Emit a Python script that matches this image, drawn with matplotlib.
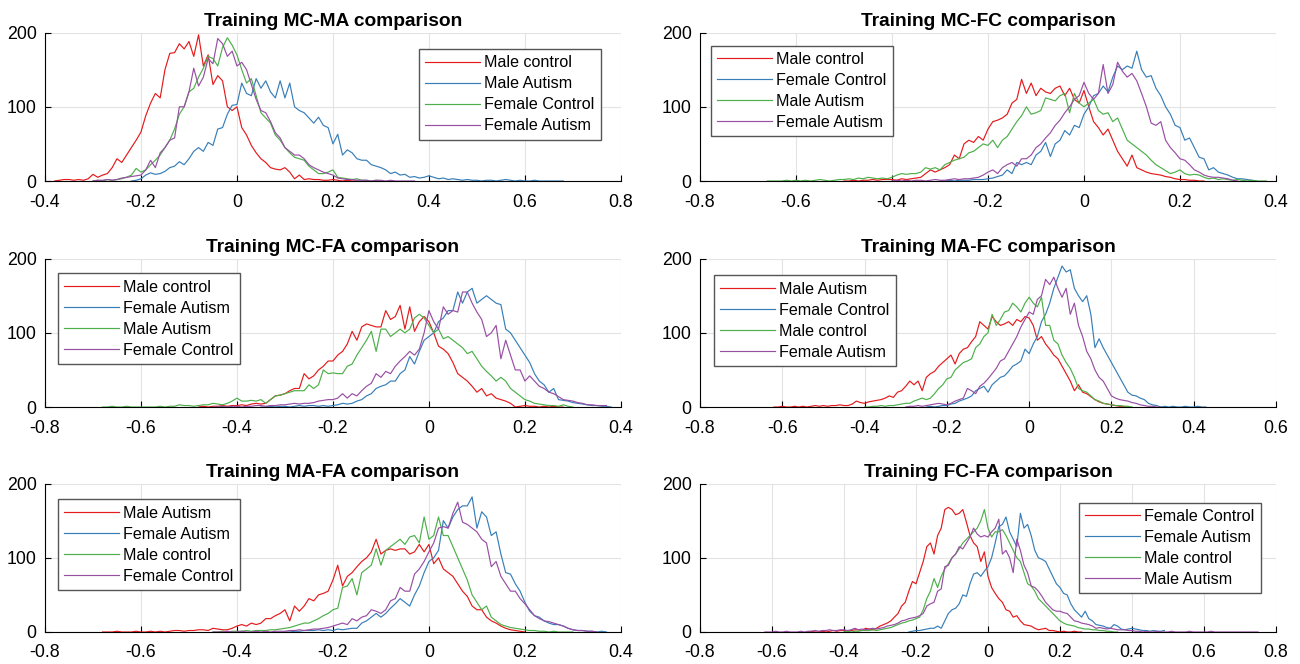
import numpy as np
import matplotlib.pyplot as plt

plt.rcParams['font.family'] = ['Liberation Sans', 'DejaVu Sans']

RED, BLUE, GREEN, PURPLE = '#E41A1C', '#377EB8', '#4DAF4A', '#984EA3'
BIN = 0.01  # histogram bin width, every list below is on this grid

# ---- Training MC-MA comparison
mcma_titles = ['Male control', 'Male Autism', 'Female Control', 'Female Autism']
mcma_start = [-0.38, -0.22, -0.30, -0.30]
mcma_red = [0, 1, 2, 2, 1, 2, 1, 3, 9, 5, 8, 10, 18, 30, 25, 35, 45, 55, 66, 88, 105, 118, 112, 150,
            172, 173, 185, 178, 188, 168, 197, 155, 170, 130, 142, 135, 100, 95, 100, 72, 62, 48, 38,
            30, 25, 18, 16, 15, 18, 12, 3, 8, 2, 3, 2, 2, 1, 1, 2, 1, 0, 1, 0, 0]
mcma_blue = [0, 1, 3, 8, 11, 9, 10, 13, 18, 20, 26, 22, 30, 40, 45, 40, 52, 48, 70, 72, 90, 102, 103,
             132, 118, 115, 138, 125, 135, 120, 112, 135, 112, 132, 100, 95, 92, 85, 78, 86, 75, 72,
             50, 63, 35, 42, 38, 30, 28, 28, 22, 20, 18, 15, 10, 12, 8, 9, 5, 6, 4, 5, 7, 5, 3, 4, 2,
             3, 2, 1, 2, 1, 1, 0, 1, 1, 0, 1, 2, 1, 0, 1, 0, 0, 1, 0, 0, 0, 0, 0, 0]
mcma_green = [0, 1, 0, 2, 1, 2, 3, 5, 8, 17, 12, 15, 22, 28, 35, 45, 55, 70, 90, 100, 120, 125, 140,
              152, 168, 165, 155, 180, 193, 183, 170, 150, 132, 138, 115, 92, 85, 78, 62, 55, 45, 38,
              32, 30, 28, 20, 15, 10, 10, 12, 15, 5, 4, 3, 2, 3, 1, 1, 0, 1, 0]
mcma_purple = [0, 1, 1, 2, 1, 2, 4, 5, 6, 7, 8, 15, 28, 18, 38, 45, 55, 58, 100, 100, 120, 152, 128,
               140, 165, 158, 192, 185, 168, 175, 155, 160, 150, 130, 110, 95, 92, 80, 65, 58, 45, 40,
               35, 35, 30, 22, 18, 15, 12, 10, 8, 4, 3, 2, 2, 1, 1, 1, 0, 1, 1, 0, 1, 0, 0, 0, 0, 0]

# ---- Training MC-FC comparison
mcfc_titles = ['Male control', 'Female Control', 'Male Autism', 'Female Autism']
mcfc_start = [-0.50, -0.30, -0.66, -0.40]
mcfc_red = [0, 0, 1, 0, 1, 1, 2, 1, 2, 2, 2, 1, 3, 2, 3, 4, 5, 10, 15, 12, 15, 18, 22, 35, 30, 50, 55,
            52, 60, 55, 70, 80, 82, 85, 90, 105, 110, 137, 118, 132, 115, 125, 120, 118, 125, 128, 115,
            125, 110, 105, 122, 100, 80, 72, 62, 70, 55, 40, 30, 20, 35, 18, 15, 12, 10, 9, 8, 6, 5,
            3, 2, 2, 1, 1, 0, 0]
mcfc_blue = [0, 0, 1, 0, 1, 1, 1, 2, 2, 2, 3, 4, 6, 8, 15, 10, 25, 22, 25, 22, 35, 40, 52, 33, 50, 55,
             68, 62, 75, 72, 90, 100, 115, 118, 128, 120, 140, 155, 150, 155, 152, 175, 150, 140, 142,
             125, 115, 100, 90, 75, 72, 55, 58, 45, 32, 30, 15, 18, 12, 10, 8, 5, 3, 3, 2, 1, 0]
mcfc_green = [0, 0, 0, 0, 1, 0, 1, 0, 1, 0, 1, 2, 1, 0, 1, 2, 2, 3, 2, 4, 3, 5, 4, 3, 4, 3, 5, 8, 10, 9,
              10, 10, 12, 18, 16, 18, 15, 22, 25, 28, 30, 32, 38, 40, 45, 50, 48, 55, 45, 55, 60, 70,
              80, 88, 100, 90, 92, 95, 112, 110, 108, 115, 118, 92, 118, 105, 100, 105, 110, 95, 90,
              92, 80, 85, 70, 55, 50, 45, 40, 35, 28, 22, 18, 14, 10, 12, 15, 10, 8, 9, 8, 5, 3, 4, 2,
              3, 2, 1, 2, 1, 0, 1, 0, 0, 0]
mcfc_purple = [0, 1, 0, 1, 0, 1, 1, 0, 1, 2, 1, 1, 2, 3, 2, 3, 3, 4, 5, 8, 12, 15, 10, 18, 22, 25, 20,
               30, 30, 35, 45, 50, 58, 65, 75, 82, 92, 100, 110, 115, 133, 118, 110, 118, 157, 118, 130,
               160, 148, 140, 145, 135, 118, 100, 78, 75, 80, 55, 45, 38, 30, 28, 22, 15, 12, 8, 6, 5,
               5, 4, 3, 1, 0]

# ---- Training MC-FA comparison
mcfa_titles = ['Male control', 'Female Autism', 'Male Autism', 'Female Control']
mcfa_start = [-0.48, -0.35, -0.68, -0.45]
mcfa_red = [0, 1, 0, 1, 1, 2, 1, 2, 2, 3, 2, 4, 5, 4, 5, 10, 15, 16, 18, 22, 25, 25, 45, 38, 42, 50, 55,
            62, 62, 70, 75, 85, 102, 90, 108, 112, 110, 108, 108, 130, 118, 122, 137, 105, 135, 102,
            115, 122, 115, 100, 82, 78, 72, 60, 45, 40, 35, 28, 20, 25, 15, 18, 12, 10, 8, 5, 0, 1, 2,
            1, 1, 0, 1, 0, 1, 0, 0]
mcfa_blue = [0, 0, 1, 0, 1, 1, 0, 1, 2, 1, 2, 2, 1, 2, 1, 2, 3, 5, 4, 5, 8, 10, 15, 18, 25, 28, 30, 35,
             35, 45, 50, 68, 58, 75, 90, 95, 100, 115, 120, 130, 130, 155, 140, 155, 160, 140, 145,
             150, 145, 140, 138, 105, 100, 90, 80, 70, 60, 45, 35, 30, 20, 25, 10, 9, 8, 6, 5, 4, 3, 2,
             2, 1, 1, 0]
mcfa_green = [0, 0, 1, 0, 0, 1, 0, 0, 0, 0, 0, 0, 1, 0, 1, 1, 3, 2, 2, 1, 2, 3, 3, 5, 4, 3, 5, 8, 12, 8,
              8, 9, 8, 10, 5, 10, 15, 16, 18, 20, 22, 22, 22, 30, 25, 30, 50, 45, 46, 45, 45, 55, 58,
              70, 80, 90, 102, 75, 105, 105, 95, 100, 105, 100, 105, 120, 125, 120, 110, 100, 105, 92,
              95, 90, 85, 80, 72, 75, 65, 55, 48, 42, 35, 40, 35, 25, 20, 15, 10, 8, 5, 4, 3, 2, 2, 1,
              3, 1, 0]
mcfa_purple = [0, 0, 1, 0, 1, 1, 0, 1, 1, 2, 2, 1, 2, 2, 3, 3, 4, 5, 4, 5, 5, 6, 8, 9, 10, 10, 12, 18,
               12, 18, 15, 22, 28, 32, 45, 40, 48, 45, 55, 62, 68, 75, 70, 78, 100, 130, 115, 105, 135,
               125, 130, 128, 155, 155, 140, 128, 118, 95, 100, 110, 65, 90, 70, 50, 50, 35, 42, 35, 28,
               25, 20, 18, 14, 10, 9, 8, 6, 5, 3, 3, 2, 2, 2]

# ---- Training MA-FC comparison
mafc_titles = ['Male Autism', 'Female Control', 'Male control', 'Female Autism']
mafc_start = [-0.62, -0.25, -0.40, -0.30]
mafc_red = [0, 0, 1, 0, 0, 1, 0, 1, 0, 1, 2, 1, 2, 1, 2, 2, 3, 2, 2, 4, 8, 6, 5, 7, 8, 9, 10, 12, 15,
            13, 20, 22, 28, 35, 30, 35, 22, 40, 45, 48, 55, 60, 65, 70, 58, 72, 78, 80, 88, 95, 115,
            110, 105, 122, 115, 110, 112, 115, 110, 118, 115, 122, 120, 110, 90, 95, 85, 78, 70, 65,
            55, 45, 35, 22, 30, 20, 18, 14, 10, 7, 5, 4, 3, 2, 1, 1, 0]
mafc_blue = [0, 1, 0, 1, 2, 2, 4, 5, 8, 10, 12, 15, 22, 25, 28, 20, 30, 35, 40, 42, 48, 55, 58, 62, 78,
             72, 85, 95, 115, 125, 140, 160, 175, 190, 182, 185, 160, 150, 142, 150, 125, 80, 92, 80,
             70, 60, 50, 40, 30, 20, 16, 15, 12, 10, 5, 3, 2, 0, 1, 0, 1, 0, 0, 1, 0, 0, 1, 0, 0]
mafc_green = [0, 0, 1, 1, 2, 1, 2, 2, 3, 4, 5, 5, 8, 10, 12, 10, 12, 18, 25, 30, 38, 40, 50, 55, 60, 62,
              65, 80, 85, 95, 100, 125, 110, 118, 128, 130, 140, 135, 128, 140, 148, 140, 135, 148,
              110, 110, 90, 85, 70, 60, 52, 40, 25, 22, 20, 15, 10, 8, 5, 4, 3, 2, 2, 1, 1, 0]
mafc_purple = [0, 1, 1, 2, 1, 2, 3, 4, 5, 4, 3, 5, 8, 10, 12, 25, 22, 18, 28, 32, 38, 45, 52, 62, 65,
               75, 85, 95, 108, 118, 128, 125, 145, 150, 172, 165, 175, 160, 148, 160, 125, 140, 110,
               95, 75, 65, 50, 40, 35, 25, 15, 12, 10, 9, 8, 6, 5, 3, 2, 1, 1, 0, 0]

# ---- Training MA-FA comparison
mafa_titles = ['Male Autism', 'Female Autism', 'Male control', 'Female Control']
mafa_start = [-0.68, -0.30, -0.45, -0.45]
mafa_red = [0, 0, 0, 1, 0, 0, 0, 1, 0, 0, 1, 0, 1, 0, 1, 2, 2, 1, 2, 2, 3, 3, 2, 5, 4, 3, 3, 5, 8, 10,
            8, 12, 10, 12, 18, 18, 22, 25, 30, 15, 35, 28, 35, 45, 42, 50, 52, 55, 70, 90, 62, 75, 80,
            88, 95, 100, 108, 125, 105, 110, 112, 110, 112, 112, 105, 108, 118, 108, 118, 92, 100, 85,
            80, 75, 65, 55, 48, 35, 30, 30, 20, 15, 12, 8, 5, 3, 2, 1, 0]
mafa_blue = [0, 0, 1, 1, 2, 2, 2, 3, 2, 3, 2, 4, 3, 4, 5, 5, 12, 15, 20, 25, 20, 25, 32, 38, 45, 40, 35,
             50, 62, 80, 95, 100, 110, 150, 140, 155, 165, 170, 170, 182, 140, 162, 155, 130, 135, 105,
             80, 78, 65, 55, 40, 28, 22, 20, 15, 12, 10, 10, 8, 5, 3, 2, 2, 1, 1, 0, 1, 0]
mafa_green = [0, 0, 1, 0, 1, 1, 1, 2, 1, 2, 2, 2, 3, 3, 4, 5, 6, 8, 10, 12, 12, 15, 18, 22, 25, 30, 32,
              60, 62, 72, 50, 80, 85, 90, 112, 90, 110, 115, 120, 125, 118, 128, 130, 120, 155, 125,
              130, 155, 130, 130, 115, 100, 85, 70, 50, 40, 30, 35, 20, 15, 10, 8, 6, 5, 4, 3, 2, 2, 1,
              1, 0, 1, 0, 0, 0, 0]
mafa_purple = [0, 0, 0, 1, 0, 0, 1, 0, 0, 1, 0, 1, 0, 1, 1, 1, 2, 2, 3, 2, 3, 4, 4, 5, 6, 8, 10, 12, 10,
               18, 15, 20, 22, 30, 28, 25, 30, 42, 45, 60, 55, 55, 78, 85, 95, 108, 120, 140, 142, 140,
               160, 175, 148, 145, 140, 135, 125, 120, 88, 95, 75, 65, 55, 55, 45, 38, 30, 22, 18, 15,
               14, 12, 10, 8, 5, 3, 2, 2, 1, 1, 0]

# ---- Training FC-FA comparison
fcfa_titles = ['Female Control', 'Female Autism', 'Male control', 'Male Autism']
fcfa_start = [-0.50, -0.22, -0.40, -0.62]
fcfa_red = [0, 1, 0, 0, 1, 0, 1, 2, 1, 2, 2, 1, 2, 3, 3, 2, 5, 4, 3, 5, 8, 10, 12, 15, 20, 25, 35, 40,
            55, 68, 65, 80, 95, 115, 120, 105, 130, 140, 165, 168, 165, 158, 160, 165, 148, 130, 120,
            115, 95, 108, 75, 60, 52, 45, 40, 30, 28, 20, 22, 15, 10, 9, 8, 5, 3, 4, 5, 2, 2, 1, 0, 1,
            0, 0, 1, 0, 0]
fcfa_blue = [0, 1, 2, 2, 3, 4, 5, 5, 8, 5, 15, 25, 30, 32, 38, 50, 48, 65, 78, 80, 75, 82, 88, 100, 120,
             142, 145, 155, 135, 125, 115, 160, 140, 145, 130, 110, 100, 98, 95, 85, 75, 65, 60, 52, 50,
             38, 30, 25, 20, 28, 18, 15, 10, 9, 8, 6, 5, 10, 8, 4, 3, 4, 5, 4, 3, 2, 2, 1, 2, 1, 1, 2]
fcfa_green = [0, 1, 0, 1, 1, 2, 2, 2, 3, 2, 3, 4, 5, 6, 8, 10, 12, 13, 15, 16, 18, 20, 30, 45, 55, 72,
              60, 75, 85, 92, 100, 105, 112, 120, 125, 130, 135, 140, 150, 165, 140, 128, 135, 135, 138,
              130, 120, 110, 100, 95, 80, 65, 62, 55, 45, 40, 35, 30, 25, 20, 15, 12, 10, 9, 8, 6, 5, 4,
              4, 3, 3, 2, 2, 1, 1, 0, 0]
fcfa_purple = [0, 0, 0, 1, 0, 0, 1, 0, 0, 0, 1, 0, 1, 1, 2, 1, 2, 2, 3, 2, 2, 3, 3, 2, 3, 5, 3, 4, 3, 4,
               5, 4, 5, 6, 8, 9, 10, 12, 15, 16, 18, 19, 20, 22, 25, 35, 38, 40, 55, 58, 88, 90, 100,
               105, 115, 112, 120, 128, 140, 132, 128, 130, 128, 135, 140, 152, 105, 110, 100, 80, 125,
               110, 90, 80, 62, 60, 55, 48, 40, 35, 30, 28, 28, 26, 25, 20, 15, 14, 12, 11, 10, 8, 5, 6,
               5, 4, 5, 4, 3, 3, 3, 2, 2, 1, 1, 0, 1, 0, 0, 1, 0, 0, 0, 1, 0, 0, 0, 0, 1, 0, 0, 0, 0, 0,
               1, 0, 0, 0, 0, 0, 0, 0, 0, 0, 0, 0, 0, 0]

panels = [
    ('Training MC-MA comparison', mcma_titles, mcma_start, [mcma_red, mcma_blue, mcma_green, mcma_purple],
     (-0.4, 0.8), 'upper right', (0.965, 0.89)),
    ('Training MC-FC comparison', mcfc_titles, mcfc_start, [mcfc_red, mcfc_blue, mcfc_green, mcfc_purple],
     (-0.8, 0.4), 'upper left', (0.019, 0.912)),
    ('Training MC-FA comparison', mcfa_titles, mcfa_start, [mcfa_red, mcfa_blue, mcfa_green, mcfa_purple],
     (-0.8, 0.4), 'upper left', (0.0226, 0.90)),
    ('Training MA-FC comparison', mafc_titles, mafc_start, [mafc_red, mafc_blue, mafc_green, mafc_purple],
     (-0.8, 0.6), 'upper left', (0.0243, 0.887)),
    ('Training MA-FA comparison', mafa_titles, mafa_start, [mafa_red, mafa_blue, mafa_green, mafa_purple],
     (-0.8, 0.4), 'upper left', (0.0226, 0.893)),
    ('Training FC-FA comparison', fcfa_titles, fcfa_start, [fcfa_red, fcfa_blue, fcfa_green, fcfa_purple],
     (-0.8, 0.8), 'upper right', (0.974, 0.872)),
]

colors = [RED, BLUE, GREEN, PURPLE]

fig = plt.figure(figsize=(13, 6.64), dpi=100)
lefts = [0.0346, 0.5385]
bottoms = [0.7274, 0.3870, 0.0482]

for k, (title, labels, starts, series, xlim, loc, anchor) in enumerate(panels):
    ax = fig.add_axes([lefts[k % 2], bottoms[k // 2], 0.443, 0.2235])
    for y, x0, c, lab in zip(series, starts, colors, labels):
        x = x0 + BIN * np.arange(len(y))
        ax.plot(x, y, color=c, lw=0.85, label=lab)
    ax.set_xlim(*xlim)
    ax.set_ylim(0, 200)
    ticks = np.round(np.arange(xlim[0], xlim[1] + 0.01, 0.2), 1) + 0.0
    ax.set_xticks(ticks)
    ax.set_xticklabels(['%g' % v for v in ticks])
    ax.set_yticks([0, 100, 200])
    ax.grid(True, color='#E3E3E3', lw=0.8)
    ax.set_axisbelow(True)
    for s in ['top', 'right']:
        ax.spines[s].set_visible(False)
    ax.tick_params(direction='in', length=4, labelsize=12.8, top=False, right=False)
    ax.tick_params(axis='x', pad=9)
    ax.tick_params(axis='y', pad=6)
    ax.set_title(title, fontsize=13.8, fontweight='bold', pad=5)
    leg = ax.legend(loc=loc, bbox_to_anchor=anchor, borderaxespad=0, fontsize=11.6,
                    handlelength=3.4, handletextpad=0.25, labelspacing=0.37,
                    fancybox=False, framealpha=1, edgecolor='#555555', borderpad=0.4)
    leg.get_frame().set_linewidth(1.0)

fig.savefig('out.png', dpi=100)
